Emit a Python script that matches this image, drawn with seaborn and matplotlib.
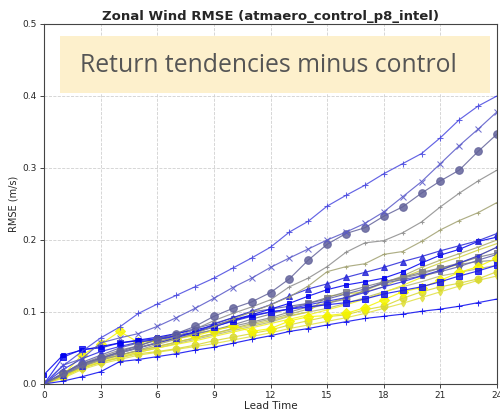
import matplotlib
matplotlib.use("Agg")
import matplotlib.pyplot as plt
from matplotlib.patches import Rectangle
import numpy as np
import pandas as pd
import seaborn as sns

lead_time = list(range(0, 25))
x_ticks = [0, 3, 6, 9, 12, 15, 18, 21, 24]
y_ticks = [0.0, 0.1, 0.2, 0.3, 0.4, 0.5]

s_blue_plus_top = [0, 0.025, 0.045, 0.064, 0.079, 0.098, 0.111, 0.123, 0.135, 0.147, 0.161, 0.175, 0.19, 0.211, 0.226, 0.247, 0.262, 0.276, 0.292, 0.306, 0.32, 0.342, 0.367, 0.386, 0.40]
s_slate_x = [0, 0.026, 0.035, 0.057, 0.064, 0.07, 0.08, 0.092, 0.105, 0.119, 0.134, 0.147, 0.162, 0.175, 0.1875, 0.2, 0.211, 0.223, 0.239, 0.26, 0.281, 0.306, 0.331, 0.354, 0.378]
s_slate_circle = [0, 0.015, 0.028, 0.036, 0.045, 0.053, 0.062, 0.07, 0.08, 0.094, 0.105, 0.114, 0.127, 0.146, 0.172, 0.194, 0.209, 0.217, 0.233, 0.246, 0.265, 0.282, 0.297, 0.323, 0.347]
s_gray_plus = [0, 0.012, 0.025, 0.035, 0.043, 0.05, 0.058, 0.066, 0.076, 0.088, 0.098, 0.107, 0.117, 0.135, 0.147, 0.163, 0.183, 0.196, 0.199, 0.21, 0.225, 0.246, 0.265, 0.282, 0.297]
s_olive_plus = [0, 0.012, 0.024, 0.033, 0.04, 0.047, 0.055, 0.062, 0.07, 0.08, 0.09, 0.1, 0.11, 0.121, 0.136, 0.156, 0.163, 0.167, 0.18, 0.184, 0.198, 0.214, 0.227, 0.238, 0.252]
s_blue_triangle = [0, 0.013, 0.025, 0.035, 0.043, 0.05, 0.057, 0.064, 0.072, 0.083, 0.092, 0.101, 0.11, 0.122, 0.132, 0.139, 0.148, 0.155, 0.162, 0.17, 0.177, 0.185, 0.192, 0.199, 0.209]
s_blue_dot = [0.013, 0.04, 0.047, 0.052, 0.057, 0.061, 0.065, 0.07, 0.075, 0.081, 0.089, 0.096, 0.104, 0.112, 0.122, 0.131, 0.1375, 0.142, 0.147, 0.156, 0.168, 0.179, 0.187, 0.198, 0.204]
s_blue_square = [0, 0.037, 0.048, 0.05, 0.057, 0.06, 0.063, 0.067, 0.072, 0.079, 0.088, 0.095, 0.1, 0.104, 0.107, 0.11, 0.113, 0.118, 0.125, 0.13, 0.135, 0.142, 0.15, 0.157, 0.165]
s_blue_plus_low = [0, 0.004, 0.010, 0.017, 0.031, 0.034, 0.038, 0.042, 0.047, 0.051, 0.0565, 0.062, 0.067, 0.073, 0.077, 0.082, 0.0865, 0.091, 0.094, 0.097, 0.101, 0.104, 0.108, 0.113, 0.118]
s_khaki_tri = [0, 0.011, 0.024, 0.033, 0.04, 0.046, 0.052, 0.058, 0.064, 0.07, 0.077, 0.084, 0.09, 0.097, 0.104, 0.112, 0.12, 0.13, 0.14, 0.15, 0.162, 0.172, 0.181, 0.19, 0.2]
s_yellow_small = [0, 0.01, 0.022, 0.031, 0.038, 0.044, 0.05, 0.055, 0.06, 0.066, 0.072, 0.078, 0.084, 0.09, 0.096, 0.103, 0.11, 0.118, 0.127, 0.137, 0.148, 0.158, 0.167, 0.178, 0.19]
s_gray_square = [0, 0.014, 0.027, 0.036, 0.044, 0.051, 0.057, 0.063, 0.069, 0.075, 0.082, 0.09, 0.097, 0.105, 0.112, 0.12, 0.128, 0.135, 0.142, 0.148, 0.155, 0.161, 0.168, 0.176, 0.182]
s_yellow_diamond = [0, 0.012, 0.04, 0.055, 0.073, 0.058, 0.06, 0.063, 0.067, 0.074, 0.0805, 0.073, 0.077, 0.0875, 0.0935, 0.095, 0.098, 0.106, 0.117, 0.128, 0.134, 0.144, 0.155, 0.163, 0.175]
s_yellow_circle = [0, 0.01, 0.022, 0.03, 0.036, 0.042, 0.045, 0.049, 0.054, 0.06, 0.065, 0.07, 0.075, 0.082, 0.088, 0.0935, 0.096, 0.103, 0.108, 0.119, 0.128, 0.135, 0.14, 0.146, 0.156]
s_yellow_low = [0, 0.008, 0.02, 0.028, 0.034, 0.04, 0.044, 0.048, 0.052, 0.056, 0.061, 0.066, 0.071, 0.077, 0.082, 0.087, 0.092, 0.098, 0.105, 0.112, 0.12, 0.128, 0.136, 0.144, 0.15]
s_gray_circle = [0, 0.015, 0.028, 0.038, 0.047, 0.053, 0.061, 0.066, 0.07, 0.075, 0.08, 0.086, 0.092, 0.1, 0.107, 0.112, 0.118, 0.13, 0.142, 0.147, 0.153, 0.161, 0.166, 0.17, 0.172]
s_slate_square = [0, 0.014, 0.03, 0.04, 0.05, 0.057, 0.063, 0.07, 0.077, 0.084, 0.092, 0.1, 0.104, 0.108, 0.112, 0.118, 0.125, 0.132, 0.14, 0.145, 0.15, 0.156, 0.163, 0.172, 0.18]
s_khaki_plain = [0, 0.01, 0.022, 0.03, 0.037, 0.044, 0.05, 0.056, 0.062, 0.068, 0.074, 0.08, 0.086, 0.094, 0.1, 0.105, 0.112, 0.12, 0.128, 0.135, 0.142, 0.15, 0.155, 0.16, 0.165]
s_yellow_olive = [0, 0.01, 0.025, 0.035, 0.04, 0.046, 0.052, 0.058, 0.064, 0.07, 0.076, 0.082, 0.088, 0.095, 0.1, 0.122, 0.125, 0.128, 0.135, 0.148, 0.158, 0.168, 0.176, 0.186, 0.195]
s_blue_mid = [0, 0.02, 0.035, 0.045, 0.052, 0.058, 0.062, 0.066, 0.072, 0.08, 0.087, 0.094, 0.1, 0.104, 0.11, 0.115, 0.12, 0.127, 0.135, 0.142, 0.15, 0.158, 0.168, 0.178, 0.19]

# (values, color, marker, markersize)
series = [
    (s_khaki_plain, "#b5b57a", "", 0),
    (s_yellow_low, "#e0e040", "d", 3.5),
    (s_yellow_circle, "#d8d830", "o", 5),
    (s_khaki_tri, "#aaaa66", "1", 4),
    (s_yellow_olive, "#d0d040", "|", 3),
    (s_yellow_small, "#eeee20", ".", 3),
    (s_gray_square, "#7a7a8a", "s", 4),
    (s_gray_circle, "#858585", "o", 5),
    (s_slate_square, "#6060a8", "s", 3.5),
    (s_yellow_diamond, "#f5f500", "D", 5),
    (s_blue_mid, "#2a2ae0", ".", 4),
    (s_blue_square, "#1515ee", "s", 4),
    (s_blue_dot, "#0000f0", "s", 2.5),
    (s_blue_triangle, "#2828d8", "^", 4.5),
    (s_blue_plus_low, "#0a0af0", "+", 4),
    (s_olive_plus, "#a0a070", "+", 3.5),
    (s_gray_plus, "#8c8c8c", "+", 3.5),
    (s_slate_circle, "#62629a", "o", 5.5),
    (s_slate_x, "#5858c8", "x", 4),
    (s_blue_plus_top, "#4848e0", "+", 4),
]

sns.set_style("ticks")
plt.rcParams["font.family"] = ["DejaVu Sans"]

fig = plt.figure(figsize=(5.0, 4.11), dpi=100)
ax = fig.add_axes([0.088, 0.0657, 0.906, 0.876])

for vals, col, mk, ms in series:
    sns.lineplot(x=lead_time, y=vals, ax=ax, color=col, linewidth=0.85,
                 marker=mk if mk else None, markersize=ms,
                 markeredgecolor=col, markerfacecolor=col, alpha=0.85)

ax.set_xlim(0, 24)
ax.set_ylim(0, 0.5)
ax.set_xticks(x_ticks)
ax.set_yticks(y_ticks)
ax.set_xticklabels([str(t) for t in x_ticks], fontsize=6.5)
ax.set_yticklabels([f"{t:.1f}" for t in y_ticks], fontsize=6.5)
ax.tick_params(length=3, width=0.6, pad=2)
ax.grid(True, linestyle="--", linewidth=0.6, color="#d0d0d0")
for sp in ax.spines.values():
    sp.set_linewidth(0.8)
    sp.set_color("#444444")
ax.set_xlabel("Lead Time", fontsize=7.5, labelpad=1)
ax.set_ylabel("RMSE (m/s)", fontsize=7, labelpad=3)
ax.set_title("Zonal Wind RMSE (atmaero_control_p8_intel)", fontsize=9.5,
             fontweight="bold", pad=3)

# overlay box
W, H = 500, 411
fig.patches.append(Rectangle((60 / W, 1 - 93 / H), 430 / W, 57 / H,
                             transform=fig.transFigure, facecolor="#fdf0cc",
                             edgecolor="none", zorder=10))
fig.text(268 / W, 1 - 66 / H, "Return tendencies minus control",
         fontsize=17.8, family=["Open Sans", "DejaVu Sans"], color="#555555",
         ha="center", va="center", zorder=11)

fig.savefig("out.png", dpi=100)
